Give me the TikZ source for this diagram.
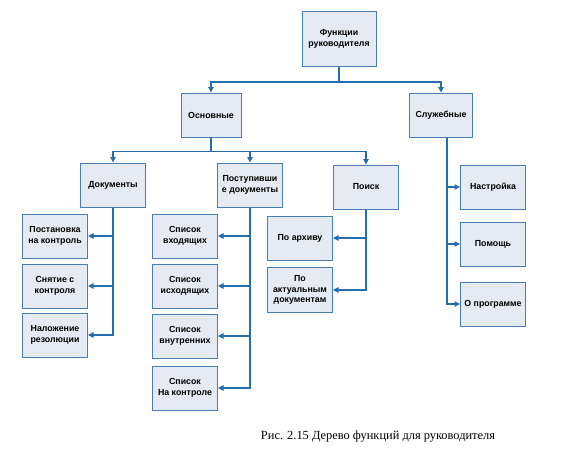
\documentclass[tikz,border=0pt]{standalone}
\usepackage{fontspec}
\setmainfont{Liberation Serif}
\setsansfont{Liberation Sans}
\usepackage{tikz}
\usetikzlibrary{arrows.meta}
\definecolor{boxline}{RGB}{70,125,180}
\definecolor{boxfill}{RGB}{228,235,244}
\definecolor{linkline}{RGB}{36,110,176}
\begin{document}
\begin{tikzpicture}[x=1pt,y=-1pt]
            \tikzstyle{func}=[draw=boxline, fill=boxfill, line width=1pt, shape=rectangle,
                align=center, inner sep=1pt, minimum width=65pt, minimum height=44pt,
                font=\sffamily\bfseries\fontsize{8.8}{10.8}\selectfont];
            \tikzstyle{link}=[draw=linkline, line width=1.1pt, -{Triangle[length=5.5pt,width=5.5pt]}];
            \useasboundingbox (0,0) rectangle (564,460);
            \node[func, minimum width=74pt, minimum height=55pt] (top) at (339,39) {Функции\\руководителя};
            \node[func, minimum width=60pt] (osn) at (211,115) {Основные};
            \node[func, minimum width=63pt] (sluzh) at (441,115) {Служебные};
            \node[func] (docs) at (113,185) {Документы};
            \node[func] (post) at (250,185) {Поступивши\\е документы};
            \node[func] (poisk) at (366,187) {Поиск};
            \node[func] (postan) at (55,236) {Постановка\\на контроль};
            \node[func] (snyat) at (55,286) {Снятие с\\контроля};
            \node[func] (nalozh) at (55,335) {Наложение\\резолюции};
            \node[func] (vhod) at (185,236) {Список\\входящих};
            \node[func] (ishod) at (185,286) {Список\\исходящих};
            \node[func] (vnutr) at (185,336) {Список\\внутренних};
            \node[func] (nakontr) at (185,388) {Список\\На контроле};
            \node[func] (arhiv) at (300,238) {По архиву};
            \node[func, minimum height=45pt] (aktual) at (300,290) {По\\актуальным\\документам};
            \node[func] (nastr) at (493,187) {Настройка};
            \node[func] (pomosch) at (493,244) {Помощь};
            \node[func] (oprog) at (493,304) {О программе};
            \node[font=\fontsize{12.4}{14}\selectfont] (caption) at (378,437) {Рис. 2.15 Дерево функций для руководителя};
            % first level
            \draw[link] (top.south) -- ++(0,15) -| (osn.north);
            \draw[link] (top.south) -- ++(0,15) -| (sluzh.north);
            % second level
            \draw[link] (osn.south) -- ++(0,14) -| (docs.north);
            \draw[link] (osn.south) -- ++(0,14) -| (post.north);
            \draw[link] (osn.south) -- ++(0,14) -| (poisk.north);
            % leaves
            \draw[link] (docs.south) |- (postan.east);
            \draw[link] (docs.south) |- (snyat.east);
            \draw[link] (docs.south) |- (nalozh.east);
            \draw[link] (post.south) |- (vhod.east);
            \draw[link] (post.south) |- (ishod.east);
            \draw[link] (post.south) |- (vnutr.east);
            \draw[link] (post.south) |- (nakontr.east);
            \draw[link] (poisk.south) |- (arhiv.east);
            \draw[link] (poisk.south) |- (aktual.east);
            \draw[link] ([xshift=6pt]sluzh.south) |- (nastr.west);
            \draw[link] ([xshift=6pt]sluzh.south) |- (pomosch.west);
            \draw[link] ([xshift=6pt]sluzh.south) |- (oprog.west);
        \end{tikzpicture}
\end{document}
